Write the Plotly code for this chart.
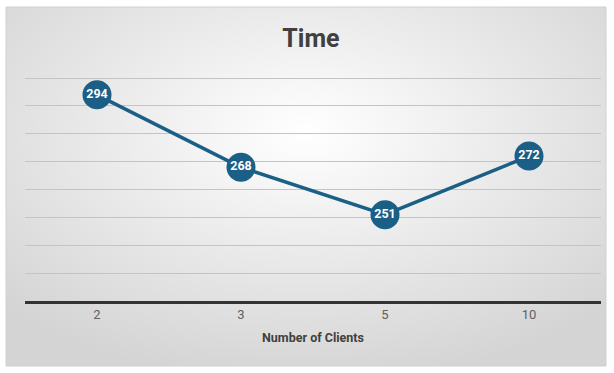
import plotly.graph_objects as go
import base64

categories = ["2", "3", "5", "10"]
times = [294, 268, 251, 272]
title_text = "Time"
x_title = "Number of Clients"

W, H = 614, 373
ml, mr, mt, mb = 25, 13, 77, 72
pw, ph = W - ml - mr, H - mt - mb

def px_x(p):
    return (p - ml) / pw

def px_y(p):
    return (H - mb - p) / ph

svg = (
    "<svg xmlns='http://www.w3.org/2000/svg' width='600' height='359' preserveAspectRatio='none'>"
    "<defs><radialGradient id='g' cx='50%' cy='35%' r='70%'>"
    "<stop offset='0%' stop-color='#ffffff'/>"
    "<stop offset='100%' stop-color='#d4d4d4'/>"
    "</radialGradient></defs>"
    "<rect width='600' height='359' fill='url(#g)'/></svg>"
)
src = "data:image/svg+xml;base64," + base64.b64encode(svg.encode()).decode()

bx0, bx1, by0, by1 = 6, 606, 7, 366

fig = go.Figure()
fig.add_trace(go.Scatter(
    x=categories, y=times,
    mode="lines+markers+text",
    line=dict(color="#1c5f86", width=3.5),
    marker=dict(size=29, color="#1c5f86", line=dict(width=0)),
    text=[str(v) for v in times],
    textposition="middle center",
    textfont=dict(family="Roboto", size=12.5, color="white", weight="bold"),
    cliponaxis=False,
    hoverinfo="skip",
))

fig.update_layout(
    width=W, height=H,
    margin=dict(l=ml, r=mr, t=mt, b=mb),
    paper_bgcolor="white",
    plot_bgcolor="rgba(0,0,0,0)",
    showlegend=False,
    title=dict(text=title_text, x=(311) / W, xanchor="center", y=1 - 38 / H, yanchor="middle",
               font=dict(family="Roboto", size=25, color="#404040", weight="bold")),
    images=[dict(source=src, xref="paper", yref="paper",
                 x=px_x(bx0), y=px_y(by0), sizex=px_x(bx1) - px_x(bx0), sizey=px_y(by0) - px_y(by1),
                 xanchor="left", yanchor="top", sizing="stretch", layer="below")],
    shapes=[dict(type="rect", xref="paper", yref="paper",
                 x0=px_x(bx0), x1=px_x(bx1), y0=px_y(by1), y1=px_y(by0),
                 line=dict(color="#d0d0d0", width=1), layer="below")],
)

fig.update_xaxes(
    type="category", range=[-0.5, 3.5], showgrid=False, showline=True, linecolor="#333333", linewidth=2.5,
    ticks="", tickfont=dict(family="Roboto", size=13, color="#606060"),
    title=dict(text=x_title, font=dict(family="Roboto", size=12.5, color="#404040", weight="bold"),
               standoff=12),
    zeroline=False,
)
fig.update_yaxes(
    range=[220, 300.4], dtick=10, tick0=220, showticklabels=False, showgrid=True,
    gridcolor="#c4c4c4", gridwidth=1, zeroline=False, showline=False, ticks="",
)

fig.write_html("out.html")
